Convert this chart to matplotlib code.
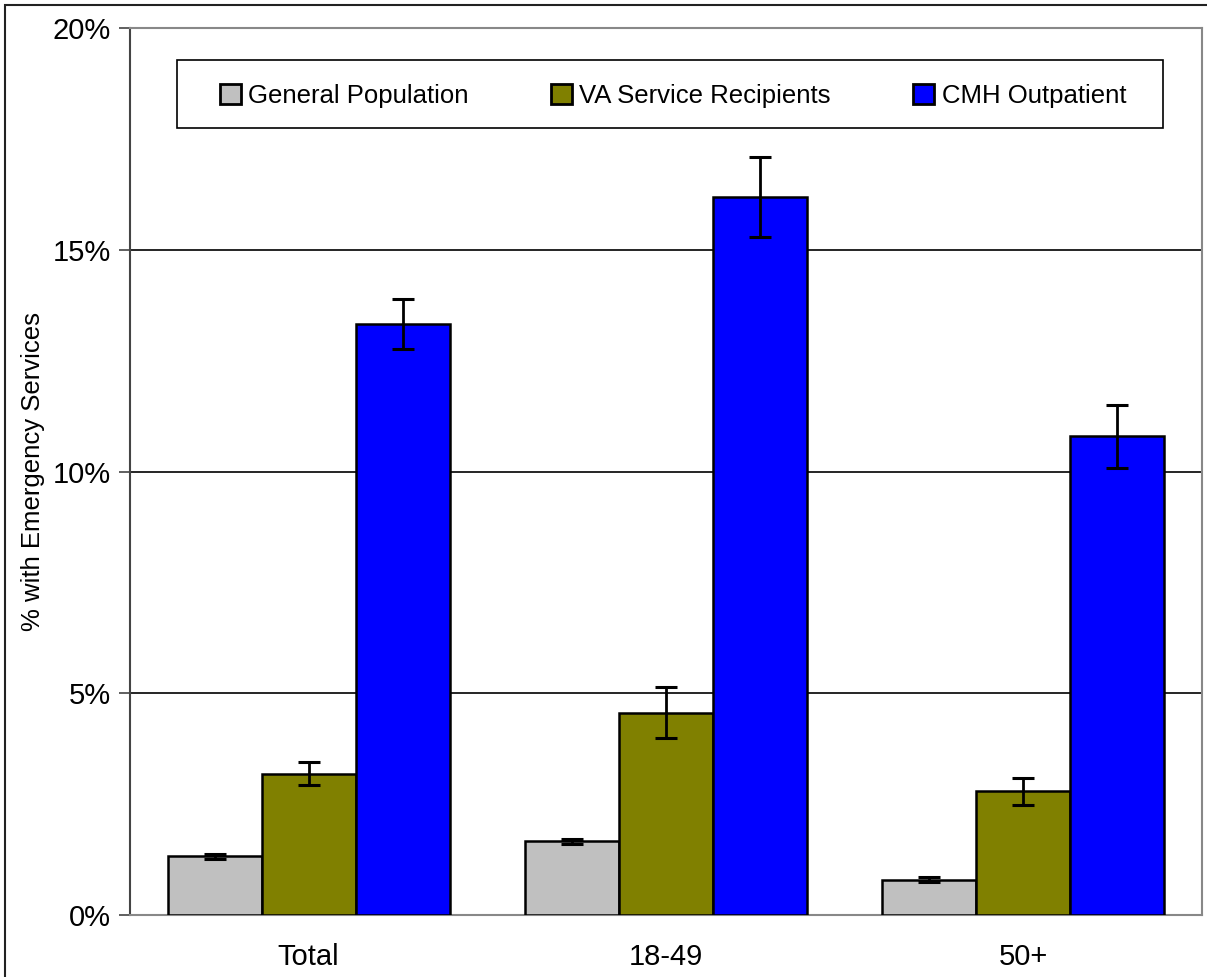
import matplotlib
matplotlib.use("Agg")
import matplotlib.pyplot as plt
import numpy as np
from matplotlib.ticker import FuncFormatter
from matplotlib.patches import Rectangle

plt.rcParams['font.family'] = ['Liberation Sans', 'DejaVu Sans']

categories = ["Total", "18-49", "50+"]
series = ["General Population", "VA Service Recipients", "CMH Outpatient"]
general = [1.32, 1.66, 0.80]
general_err = [0.05, 0.05, 0.05]
va = [3.19, 4.56, 2.79]
va_err = [0.27, 0.57, 0.31]
cmh = [13.33, 16.19, 10.79]
cmh_err = [0.56, 0.91, 0.71]
colors = ["#C0C0C0", "#808000", "#0000FF"]

W, H = 1207, 977
fig = plt.figure(figsize=(W/100, H/100), dpi=100)
ax = fig.add_axes([130/W, (H-915)/H, (1202-130)/W, (915-28)/H])

fig.patches.append(Rectangle((5/W, -0.1), 1.2, (H-5)/H + 0.1, transform=fig.transFigure,
                             fill=False, edgecolor='#222222', linewidth=1.5))

x = np.arange(len(categories))
bw = 0.263
vals = [general, va, cmh]
errs = [general_err, va_err, cmh_err]
for i, (v, e, c, s) in enumerate(zip(vals, errs, colors, series)):
    ax.bar(x + (i - 1) * bw, v, bw, color=c, edgecolor='black', linewidth=1.8, label=s, zorder=3)
    ax.errorbar(x + (i - 1) * bw, v, yerr=e, fmt='none', ecolor='black', elinewidth=2,
                capsize=8, capthick=2.2, zorder=4)

ax.set_xlim(-0.5, 2.5)
ax.set_ylim(0, 20)
ax.set_yticks([0, 5, 10, 15, 20])
ax.yaxis.set_major_formatter(FuncFormatter(lambda v, p: f"{int(v)}%"))
ax.yaxis.grid(True, color='black', linewidth=1.2, zorder=0)
ax.set_axisbelow(True)
ax.set_xticks(x)
ax.set_xticklabels(categories)
ax.tick_params(axis='x', length=0, labelsize=21, pad=20)
ax.tick_params(axis='y', length=8, width=1.2, color='#444444', labelsize=21, pad=6, direction='out')
ax.set_ylabel("% with Emergency Services", fontsize=18.5, labelpad=5.5)
for sp in ['top', 'right', 'bottom']:
    ax.spines[sp].set_color('#888888')
    ax.spines[sp].set_linewidth(1.5)
ax.spines['left'].set_color('#444444')
ax.spines['left'].set_linewidth(1.5)

ax_w = 1202 - 130
ax_h = 915 - 28
# legend frame
ax.add_patch(Rectangle(((177 - 130) / ax_w, (915 - 128) / ax_h), (1163 - 177) / ax_w, (128 - 60) / ax_h,
                       transform=ax.transAxes, fill=False, edgecolor='black', linewidth=1.2, zorder=5))
lx0 = (220 - 130) / ax_w
lw = (1126 - 220) / ax_w
ly = (915 - 96) / ax_h
leg = ax.legend(ncol=3, loc='center', bbox_to_anchor=(lx0, ly, lw, 0), mode='expand',
                fontsize=18.5, frameon=False,
                handlelength=0.8, handleheight=0.8, handletextpad=0.3, borderaxespad=0,
                borderpad=0)
for h in leg.legend_handles:
    h.set_linewidth(2.0)

fig.savefig("out.png", dpi=100)
